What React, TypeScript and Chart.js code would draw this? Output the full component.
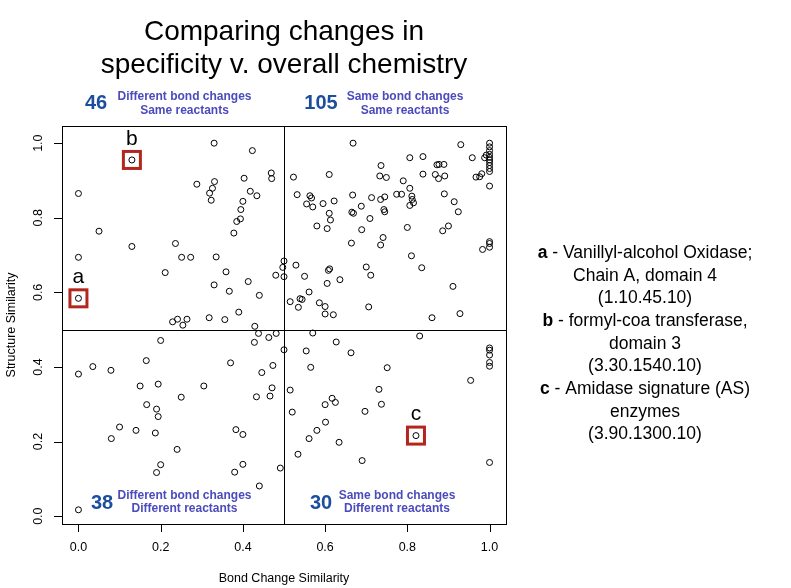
import React, { useEffect, useRef } from "react";
import { Chart, registerables } from "chart.js";

Chart.register(...registerables);

// Different bond changes, same reactants (top-left)
const diffBondSameReact: [number, number][] = [
  [0.13, 0.955], [0.0, 0.865], [0.288, 0.89], [0.05, 0.764], [0.13, 0.723], [0.236, 0.731],
  [0.0, 0.694], [0.251, 0.694], [0.273, 0.694], [0.211, 0.653], [0.0, 0.584], [0.229, 0.521],
  [0.241, 0.528], [0.254, 0.512], [0.264, 0.528], [0.318, 0.532], [0.335, 0.695], [0.48, 0.646],
  [0.359, 0.655], [0.413, 0.629], [0.33, 0.62], [0.367, 0.603], [0.44, 0.592], [0.39, 0.547],
  [0.356, 0.527], [0.429, 0.509], [0.33, 1.0], [0.423, 0.98], [0.331, 0.897], [0.326, 0.879],
  [0.319, 0.866], [0.323, 0.847], [0.403, 0.906], [0.469, 0.92], [0.47, 0.905], [0.418, 0.871],
  [0.434, 0.859], [0.4, 0.844], [0.395, 0.822], [0.394, 0.797], [0.385, 0.79], [0.378, 0.759],
  [0.497, 0.667],
];

// Same bond changes, same reactants (top-right)
const sameBondSameReact: [number, number][] = [
  [0.5, 0.684], [0.5, 0.642], [0.81, 0.698], [0.7, 0.668], [0.711, 0.646], [0.835, 0.666],
  [0.911, 0.616], [0.706, 0.561], [0.86, 0.532], [0.928, 0.543], [0.529, 0.673], [0.55, 0.643],
  [0.608, 0.659], [0.611, 0.663], [0.605, 0.624], [0.636, 0.634], [0.561, 0.601], [0.539, 0.583],
  [0.544, 0.581], [0.515, 0.575], [0.535, 0.56], [0.586, 0.572], [0.6, 0.562], [0.6, 0.542],
  [0.62, 0.54], [0.523, 0.909], [0.61, 0.916], [0.532, 0.862], [0.563, 0.859], [0.567, 0.853],
  [0.555, 0.837], [0.57, 0.829], [0.595, 0.838], [0.622, 0.845], [0.61, 0.812], [0.613, 0.794],
  [0.58, 0.778], [0.605, 0.771], [0.668, 1.0], [0.667, 0.861], [0.665, 0.815], [0.669, 0.812],
  [0.689, 0.768], [0.664, 0.732], [0.93, 0.996], [1, 1.0], [1, 0.99], [1, 0.98], [1, 0.97],
  [1, 0.962], [1, 0.955], [1, 0.948], [1, 0.94], [1, 0.932], [1, 0.924], [1.0, 0.885],
  [0.958, 0.961], [0.988, 0.961], [0.992, 0.968], [0.967, 0.909], [0.976, 0.91], [0.981, 0.918],
  [0.806, 0.961], [0.838, 0.964], [0.736, 0.94], [0.733, 0.912], [0.749, 0.908], [0.79, 0.899],
  [0.806, 0.879], [0.838, 0.917], [0.872, 0.942], [0.877, 0.943], [0.889, 0.943], [0.868, 0.916],
  [0.876, 0.905], [0.891, 0.912], [0.89, 0.864], [0.774, 0.863], [0.786, 0.863], [0.811, 0.858],
  [0.812, 0.849], [0.815, 0.84], [0.806, 0.833], [0.914, 0.843], [0.924, 0.816], [0.713, 0.854],
  [0.735, 0.849], [0.745, 0.856], [0.688, 0.831], [0.743, 0.822], [0.745, 0.816], [0.709, 0.798],
  [0.741, 0.747], [0.735, 0.727], [0.8, 0.774], [0.886, 0.765], [0.9, 0.778], [0.983, 0.715],
  [1.0, 0.721], [1.0, 0.731], [1.0, 0.736],
];

// Different bond changes, different reactants (bottom-left)
const diffBondDiffReact: [number, number][] = [
  [0.2, 0.471], [0.165, 0.417], [0.035, 0.401], [0.079, 0.391], [0.0, 0.381], [0.15, 0.349],
  [0.194, 0.354], [0.305, 0.349], [0.25, 0.319], [0.166, 0.299], [0.19, 0.287], [0.194, 0.267],
  [0.1, 0.239], [0.14, 0.23], [0.187, 0.223], [0.08, 0.208], [0.24, 0.179], [0.2, 0.138],
  [0.19, 0.117], [0.0, 0.017], [0.471, 0.344], [0.433, 0.32], [0.466, 0.322], [0.383, 0.232],
  [0.4, 0.219], [0.4, 0.139], [0.38, 0.118], [0.491, 0.129], [0.44, 0.081], [0.438, 0.49],
  [0.481, 0.49], [0.463, 0.479], [0.428, 0.466], [0.37, 0.411], [0.473, 0.404], [0.446, 0.385],
  [0.5, 0.446],
];

// Same bond changes, different reactants (bottom-right)
const sameBondDiffReact: [number, number][] = [
  [0.515, 0.338], [0.52, 0.279], [0.6, 0.299], [0.617, 0.316], [0.625, 0.305], [0.601, 0.252],
  [0.58, 0.23], [0.561, 0.208], [0.634, 0.198], [0.534, 0.166], [0.731, 0.34], [0.737, 0.3],
  [0.697, 0.281], [0.821, 0.216], [0.69, 0.149], [1.0, 0.144], [0.83, 0.483], [0.663, 0.438],
  [0.751, 0.398], [0.954, 0.364], [1, 0.451], [1, 0.445], [1, 0.432], [1, 0.412], [1, 0.402],
  [0.57, 0.491], [0.554, 0.443], [0.627, 0.467], [0.565, 0.399],
];

const xTicks = [0, 0.2, 0.4, 0.6, 0.8, 1.0];
const yTicks = [0, 0.2, 0.4, 0.6, 0.8, 1.0];
const tickLabels = ["0.0", "0.2", "0.4", "0.6", "0.8", "1.0"];

const highlightLabels = ["a", "b", "c"];
const highlightX = [0.0, 0.13, 0.821];
const highlightY = [0.584, 0.955, 0.216];

const quadrantCounts = ["46", "105", "38", "30"];
const quadrantLine1 = ["Different bond changes", "Same bond changes", "Different bond changes", "Same bond changes"];
const quadrantLine2 = ["Same reactants", "Same reactants", "Different reactants", "Different reactants"];

const titleLines = ["Comparing changes in", "specificity v. overall chemistry"];

const noteLines: { bold: string; rest: string }[] = [
  { bold: "a", rest: " - Vanillyl-alcohol Oxidase;" },
  { bold: "", rest: "Chain A, domain 4" },
  { bold: "", rest: "(1.10.45.10)" },
  { bold: "b", rest: " - formyl-coa transferase," },
  { bold: "", rest: "domain 3" },
  { bold: "", rest: "(3.30.1540.10)" },
  { bold: "c", rest: " - Amidase signature (AS)" },
  { bold: "", rest: "enzymes" },
  { bold: "", rest: "(3.90.1300.10)" },
];

const FONT = '"Liberation Sans", Arial, Helvetica, sans-serif';

const toPts = (arr: [number, number][]) => arr.map(([x, y]) => ({ x, y }));

export default function App() {
  const ref = useRef<HTMLCanvasElement | null>(null);

  useEffect(() => {
    if (!ref.current) return;

    const decor = {
      id: "decor",
      beforeDatasetsDraw(chart: any) {
        const { ctx, chartArea: ca, scales } = chart;
        const xs = scales.x;
        const ys = scales.y;
        ctx.save();
        ctx.strokeStyle = "#000";
        ctx.lineWidth = 1;
        ctx.strokeRect(Math.round(ca.left) + 0.5, Math.round(ca.top) + 0.5, Math.round(ca.right - ca.left), Math.round(ca.bottom - ca.top));
        const mx = Math.round(xs.getPixelForValue(0.5)) + 0.5;
        const my = Math.round(ys.getPixelForValue(0.5)) + 0.5;
        ctx.beginPath();
        ctx.moveTo(mx, ca.top);
        ctx.lineTo(mx, ca.bottom);
        ctx.moveTo(ca.left, my);
        ctx.lineTo(ca.right, my);
        ctx.stroke();
        ctx.beginPath();
        xTicks.forEach((v) => {
          const px = Math.round(xs.getPixelForValue(v)) + 0.5;
          ctx.moveTo(px, ca.bottom);
          ctx.lineTo(px, ca.bottom + 8);
        });
        yTicks.forEach((v) => {
          const py = Math.round(ys.getPixelForValue(v)) + 0.5;
          ctx.moveTo(ca.left, py);
          ctx.lineTo(ca.left - 8, py);
        });
        ctx.stroke();
        ctx.fillStyle = "#000";
        ctx.font = `12.5px ${FONT}`;
        ctx.textAlign = "center";
        ctx.textBaseline = "middle";
        xTicks.forEach((v, i) => {
          ctx.fillText(tickLabels[i], xs.getPixelForValue(v), 548);
        });
        yTicks.forEach((v, i) => {
          ctx.save();
          ctx.translate(39, ys.getPixelForValue(v));
          ctx.rotate(-Math.PI / 2);
          ctx.fillText(tickLabels[i], 0, 0);
          ctx.restore();
        });
        ctx.fillText("Bond Change Similarity", (ca.left + ca.right) / 2, 579);
        ctx.save();
        ctx.translate(12, (ca.top + ca.bottom) / 2);
        ctx.rotate(-Math.PI / 2);
        ctx.fillText("Structure Similarity", 0, 0);
        ctx.restore();
        ctx.restore();
      },
      afterDatasetsDraw(chart: any) {
        const { ctx, chartArea: ca, scales } = chart;
        const xs = scales.x;
        const ys = scales.y;
        ctx.save();
        highlightLabels.forEach((lab, i) => {
          const px = xs.getPixelForValue(highlightX[i]);
          const py = ys.getPixelForValue(highlightY[i]);
          ctx.strokeStyle = "#b3261e";
          ctx.lineWidth = 3;
          ctx.strokeRect(px - 8.5, py - 8.5, 17, 17);
          ctx.fillStyle = "#000";
          ctx.font = `21px ${FONT}`;
          ctx.textAlign = "center";
          ctx.textBaseline = "middle";
          ctx.fillText(lab, px, py - 21);
        });
        ctx.fillStyle = "#000";
        ctx.font = `28px ${FONT}`;
        ctx.textAlign = "center";
        ctx.textBaseline = "middle";
        const cx = (ca.left + ca.right) / 2;
        ctx.fillText(titleLines[0], cx, 32);
        ctx.fillText(titleLines[1], cx, 65);
        const numX = [96, 321, 102, 321];
        const numY = [103, 103, 503, 503];
        const txtX = [184.5, 405, 184.5, 397];
        const txtY = [97, 97, 495.5, 495.5];
        quadrantCounts.forEach((n, i) => {
          ctx.fillStyle = "#1c4e9e";
          ctx.font = `bold 20px ${FONT}`;
          ctx.fillText(n, numX[i], numY[i]);
          ctx.fillStyle = "#4b4bbd";
          ctx.font = `bold 12px ${FONT}`;
          ctx.fillText(quadrantLine1[i], txtX[i], txtY[i]);
          ctx.fillText(quadrantLine2[i], txtX[i], txtY[i] + 13.3);
        });
        ctx.fillStyle = "#000";
        const fs = 17.5;
        noteLines.forEach((ln, i) => {
          const y = 253 + 22.7 * i;
          ctx.font = `bold ${fs}px ${FONT}`;
          const wb = ln.bold ? ctx.measureText(ln.bold).width : 0;
          ctx.font = `${fs}px ${FONT}`;
          const wr = ctx.measureText(ln.rest).width;
          const start = 645 - (wb + wr) / 2;
          ctx.textAlign = "left";
          if (ln.bold) {
            ctx.font = `bold ${fs}px ${FONT}`;
            ctx.fillText(ln.bold, start, y);
          }
          ctx.font = `${fs}px ${FONT}`;
          ctx.fillText(ln.rest, start + wb, y);
        });
        ctx.restore();
      },
    };

    const ptStyle = {
      pointStyle: "circle" as const,
      pointRadius: 3,
      pointHoverRadius: 3,
      pointBorderWidth: 1,
      pointBorderColor: "#000",
      pointBackgroundColor: "rgba(0,0,0,0)",
      showLine: false,
    };

    const chart = new Chart(ref.current, {
      type: "scatter",
      data: {
        datasets: [
          { label: "Different bond changes, same reactants", data: toPts(diffBondSameReact), ...ptStyle },
          { label: "Same bond changes, same reactants", data: toPts(sameBondSameReact), ...ptStyle },
          { label: "Different bond changes, different reactants", data: toPts(diffBondDiffReact), ...ptStyle },
          { label: "Same bond changes, different reactants", data: toPts(sameBondDiffReact), ...ptStyle },
        ],
      },
      options: {
        responsive: false,
        animation: false,
        devicePixelRatio: 1,
        layout: { padding: { left: 62, right: 285, top: 126, bottom: 64 } },
        scales: {
          x: { type: "linear", min: -0.04, max: 1.04, display: false },
          y: { type: "linear", min: -0.021, max: 1.046, display: false },
        },
        plugins: {
          legend: { display: false },
          title: { display: false },
          tooltip: { enabled: false },
        },
      },
      plugins: [decor],
    });
    return () => chart.destroy();
  }, []);

  return (
    <div style={{ position: "absolute", left: 0, top: 0, width: 791, height: 588, background: "#fff" }}>
      <canvas ref={ref} width={791} height={588} style={{ width: 791, height: 588, display: "block" }} />
    </div>
  );
}
